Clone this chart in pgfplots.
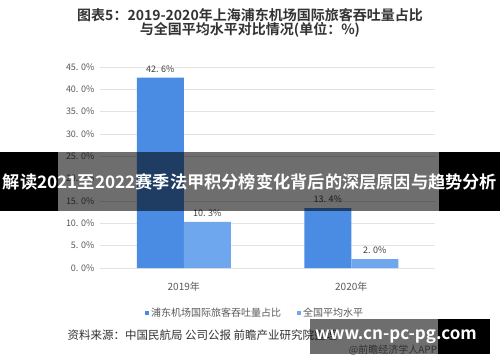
\documentclass[border=0pt]{standalone}
\usepackage{fontspec}
\setmainfont{Noto Sans CJK SC}[BoldFont={Noto Sans CJK SC Bold}]
\usepackage{pgfplots}
\pgfplotsset{compat=1.18}
\definecolor{barA}{HTML}{4A8CE4}
\definecolor{barB}{HTML}{6FA7EE}
\definecolor{gridc}{HTML}{E3E3E3}
\definecolor{tickc}{HTML}{595959}
\begin{document}
\begin{tikzpicture}[x=1pt,y=1pt]
\useasboundingbox (0,0) rectangle (500,362);
\fill[white] (0,0) rectangle (500,362);
% title
\node[font=\fontsize{14}{14}\selectfont\bfseries, text=black!80] at (250,347) {图表5：2019-2020年上海浦东机场国际旅客吞吐量占比};
\node[font=\fontsize{14}{14}\selectfont\bfseries, text=black!80] at (250,332) {与全国平均水平对比情况(单位：\%)};
\begin{axis}[
  at={(100pt,94pt)}, anchor=south west,
  scale only axis, width=335pt, height=201pt,
  xmin=-0.5, xmax=1.5, ymin=0, ymax=45,
  ybar=0pt, bar width=47pt,
  axis line style={draw=none},
  major tick length=0pt,
  ymajorgrids, grid style={gridc, line width=0.6pt},
  ytick={0,5,10,15,20,25,30,35,40,45},
  yticklabels={0. 0\%,5. 0\%,10. 0\%,15. 0\%,20. 0\%,25. 0\%,30. 0\%,35. 0\%,40. 0\%,45. 0\%},
  yticklabel style={font=\fontsize{9}{9}\selectfont, text=tickc, xshift=-2pt},
  xtick={0,1}, xticklabels={2019年,2020年},
  xticklabel style={font=\fontsize{10}{10}\selectfont, text=tickc, yshift=-11pt},
  point meta=explicit symbolic,
  nodes near coords,
  nodes near coords style={font=\fontsize{9}{9}\selectfont, text=black!75, yshift=2pt},
  legend columns=2,
  legend style={at={(0.463,-0.224)}, anchor=center, draw=none, fill=none,
    font=\fontsize{10}{10}\selectfont, text=tickc,
    /tikz/every even column/.append style={column sep=14pt}},
  legend image code/.code={\fill[#1] (0pt,-2pt) rectangle (4pt,2pt);},
]
\addplot[fill=barA, draw=none] coordinates {(0,42.6) [42. 6\%] (1,13.4) [13. 4\%]};
\addplot[fill=barB, draw=none] coordinates {(0,10.3) [10. 3\%] (1,2.0) [2. 0\%]};
\legend{浦东机场国际旅客吞吐量占比,全国平均水平}
\end{axis}
% source
\node[anchor=west, font=\fontsize{11.5}{11.5}\selectfont, text=black!80] at (64,27) {资料来源：中国民航局 公司公报 前瞻产业研究院整理};
\node[font=\fontsize{10}{10}\selectfont, text=black!55] at (393,12) {@前瞻经济学人APP};
% banner
\fill[black] (0,151) rectangle (58,210);
\fill[black] (439,151) rectangle (500,210);
\fill[black, opacity=0.57] (58,151) rectangle (439,210);
\node[text=white, inner sep=0pt] at (250,180) {\resizebox{494pt}{!}{\fontsize{18}{18}\selectfont\bfseries 解读2021至2022赛季法甲积分榜变化背后的深层原因与趋势分析}};
% watermark
\fill[black, opacity=0.57] (310,8) rectangle (438,43);
\fill[black] (438,8) rectangle (490,43);
\node[font=\fontsize{17}{17}\selectfont\bfseries, text=white] at (396,25) {www.cn-pc-pg.com};
\end{tikzpicture}
\end{document}
